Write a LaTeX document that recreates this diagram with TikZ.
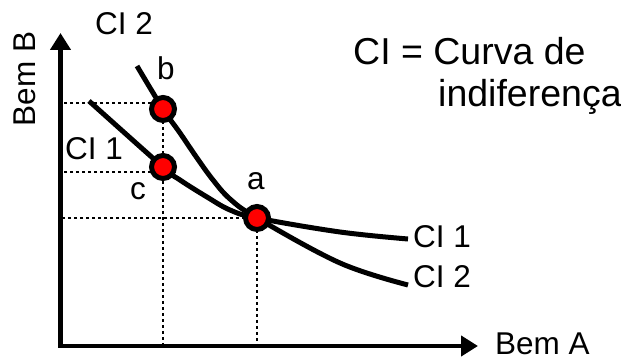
\documentclass[tikz,border=0pt]{standalone}
\usepackage{fontspec}
\setmainfont{Liberation Sans}
\usetikzlibrary{arrows.meta, calc}
\definecolor{ptred}{HTML}{FF0000}

\begin{document}
\begin{tikzpicture}[
  x=1pt, y=1pt,
  >={Triangle[length=17pt, width=20pt]},
  axis/.style={line width=4.6pt},
  curve/.style={line width=5pt, line join=round},
  guide/.style={line width=2.5pt, dash pattern=on 3pt off 3pt},
  ptdot/.style={circle, fill=ptred, draw=black, line width=5pt,
    minimum size=23pt, inner sep=0pt},
  lbl/.style={font=\fontsize{31.5}{36}\selectfont, inner sep=0pt},
  biglbl/.style={font=\fontsize{37.5}{43}\selectfont, inner sep=0pt},
]

\useasboundingbox (0,0) rectangle (621,361);

% Axis corner and tips
\coordinate (O) at (60.5,15);
\coordinate (ytip) at (60.5,328);
\coordinate (xtip) at (478,15);

% Basket positions
\coordinate (pa) at (257,143);
\coordinate (pb) at (163,252);
\coordinate (pc) at (163,194);

% --- Guide lines to the axes ---
\draw[guide] ([yshift=6pt]pb) -- ([yshift=6pt]pb -| O);
\draw[guide] ([yshift=-5pt]pc) -- ([yshift=-5pt]pc -| O);
\draw[guide] (pa) -- (pa -| O);
\draw[guide] (pb) -- (pb |- O);
\draw[guide] (pa) -- (pa |- O);

% --- Axes ---
\draw[axis, <->] (ytip) -- (O) -- (xtip);

% --- Indifference curves ---
\coordinate (ci1s) at (89,260);
\coordinate (ci1e) at (408,122);
\coordinate (ci2s) at (137,295);
\coordinate (ci2e) at (408,76);

\draw[curve] plot[smooth, tension=0.6] coordinates
  {(ci1s) (pc) (180,181) (207,164) (230,151) (pa) (340,129) (ci1e)};
\draw[curve] plot[smooth, tension=0.6] coordinates
  {(ci2s) (pb) (180,228) (197,203) (213,181) (230,162) (pa) (340,98) (ci2e)};

% --- Points ---
\node[ptdot] (a) at (pa) {};
\node[ptdot] (b) at (pb) {};
\node[ptdot] (c) at (pc) {};

% --- Labels ---
\node[lbl, rotate=90] (bemb) at (25,282) {Bem B};
\node[lbl, anchor=base west] (bema) at (495,6) {Bem A};
\node[lbl, anchor=base west] (ci2top) at (95,326) {CI 2};
\node[lbl, anchor=base west] (ci1left) at (65,201) {CI 1};
\node[lbl, anchor=base west] (ci1right) at (413,113) {CI 1};
\node[lbl, anchor=base west] (ci2right) at (413,73) {CI 2};
\node[lbl, anchor=base west] (lba) at (247,171) {a};
\node[lbl, anchor=base west] (lbb) at (157,281) {b};
\node[lbl, anchor=base west] (lbc) at (130,161) {c};

\node[biglbl, anchor=base west] (legend1) at (353,296) {CI = Curva de};
\node[biglbl, anchor=base west] (legend2) at (438,254) {indiferença};

\end{tikzpicture}
\end{document}
